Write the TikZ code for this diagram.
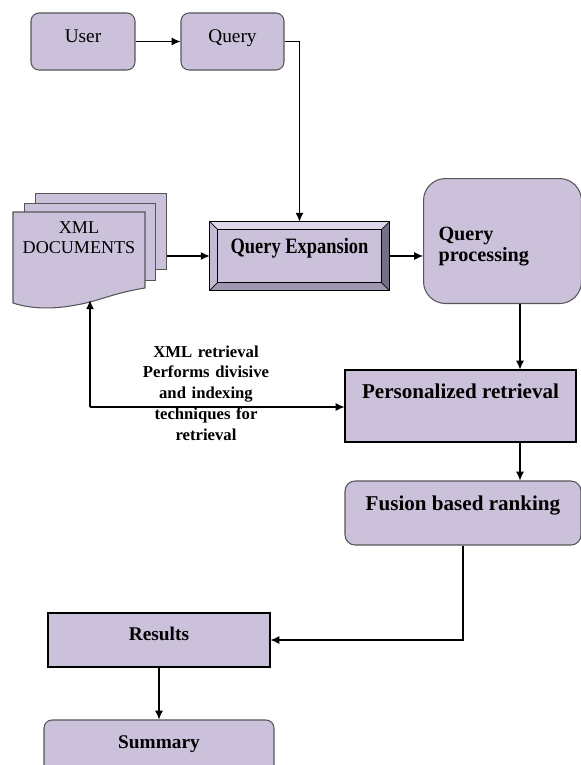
\documentclass[tikz,border=0pt]{standalone}
\usepackage{fontspec}
\setmainfont{Liberation Serif}
\usetikzlibrary{arrows.meta,positioning,calc,backgrounds}
\definecolor{boxfill}{RGB}{203,193,218}
\definecolor{boxedge}{RGB}{85,85,90}
\definecolor{bevtop}{RGB}{222,215,232}
\definecolor{bevleft}{RGB}{196,186,211}
\definecolor{bevright}{RGB}{118,110,133}
\definecolor{bevbottom}{RGB}{160,150,175}

\begin{document}
\begin{tikzpicture}[x=0.02cm,y=-0.02cm,
        box/.style={draw=black,fill=boxfill,line width=0.6pt,inner sep=0pt,anchor=base},
        rbox/.style={box,draw=boxedge,rounded corners=0.16cm},
        arr/.style={-{Latex[length=5pt,width=4.5pt]},line width=0.6pt},
        txt/.style={font=\fontsize{11}{13}\selectfont},
        btxt/.style={font=\bfseries\fontsize{11.5}{12}\selectfont}]
        \useasboundingbox (0,0) rectangle (581,765);

        % top row
        \node[rbox,txt,minimum width=2.08cm,text height=0.58cm,text depth=0.56cm] (user) at (83,42) {User};
        \node[rbox,txt,minimum width=2.06cm,text height=0.58cm,text depth=0.56cm] (query) at (232.5,42) {Query};

        % xml documents (stacked pages)
        \node[box,draw=boxedge,anchor=north west,minimum width=2.62cm,minimum height=1.52cm] (xmlback) at (35,193) {};
        \node[box,draw=boxedge,anchor=north west,minimum width=2.62cm,minimum height=1.54cm] (xmlmid) at (24,203) {};
        \draw[draw=boxedge,fill=boxfill,line width=0.6pt] (13,212) -- (145,212) -- (145,288)
            .. controls (120,292) and (105,298) .. (90,302)
            .. controls (70,307) and (40,312) .. (13,303) -- cycle;
        \node[anchor=base,inner sep=0pt,text width=2.64cm,align=center,text height=0.42cm,text depth=1.34cm,
            font=\fontsize{10.3}{11.5}\selectfont] (xml) at (79,233) {XML\\DOCUMENTS};

        % query expansion (bevelled)
        \node[anchor=base,inner sep=0pt,minimum width=3.58cm,text height=0.62cm,text depth=0.74cm,
            font=\bfseries\fontsize{12.5}{14}\selectfont\addfontfeatures{FakeStretch=0.84}] (qexp) at (299.5,253) {Query Expansion};
        \begin{scope}[on background layer]
            \fill[boxfill] (qexp.north west) rectangle (qexp.south east);
            \fill[bevtop] (qexp.north west) -- (qexp.north east) -- ($(qexp.north east)+(-8,8)$) -- ($(qexp.north west)+(8,8)$) -- cycle;
            \fill[bevright] (qexp.north east) -- (qexp.south east) -- ($(qexp.south east)+(-8,-8)$) -- ($(qexp.north east)+(-8,8)$) -- cycle;
            \fill[bevbottom] (qexp.south east) -- (qexp.south west) -- ($(qexp.south west)+(8,-8)$) -- ($(qexp.south east)+(-8,-8)$) -- cycle;
            \fill[bevleft] (qexp.south west) -- (qexp.north west) -- ($(qexp.north west)+(8,8)$) -- ($(qexp.south west)+(8,-8)$) -- cycle;
            \draw[line width=0.6pt] (qexp.north west) rectangle (qexp.south east);
            \draw[line width=0.5pt] ($(qexp.north west)+(8,8)$) rectangle ($(qexp.south east)+(-8,-8)$);
            \draw[line width=0.4pt] (qexp.north west) -- ($(qexp.north west)+(8,8)$);
            \draw[line width=0.4pt] (qexp.north east) -- ($(qexp.north east)+(-8,8)$);
            \draw[line width=0.4pt] (qexp.south east) -- ($(qexp.south east)+(-8,-8)$);
            \draw[line width=0.4pt] (qexp.south west) -- ($(qexp.south west)+(8,-8)$);
        \end{scope}

        % right column
        \node[rbox,btxt,rounded corners=0.44cm,anchor=north west,text width=2.56cm,inner xsep=0.3cm,inner ysep=0pt,
            align=left,text height=1.24cm,text depth=1.26cm] (qproc) at (423,178) {Query\\processing};
        \node[box,font=\bfseries\fontsize{12}{14}\selectfont,minimum width=4.62cm,text height=0.56cm,text depth=0.88cm] (pers) at (460.5,398) {Personalized retrieval};
        \node[rbox,font=\bfseries\fontsize{12}{14}\selectfont,rounded corners=0.2cm,minimum width=4.72cm,text height=0.58cm,text depth=0.70cm] (fusion) at (463,510) {Fusion based ranking};

        % bottom
        \node[box,font=\bfseries\fontsize{11}{13}\selectfont,minimum width=4.44cm,text height=0.54cm,text depth=0.54cm] (results) at (159,640) {Results};
        \node[rbox,font=\bfseries\fontsize{11}{13}\selectfont,minimum width=4.6cm,text height=0.56cm,text depth=0.6cm] (summary) at (159,748) {Summary};

        \node[anchor=base,inner sep=0pt,text width=3.2cm,align=center,font=\bfseries\fontsize{9.5}{11.9}\selectfont] (fblabel) at (206,357)
            {XML retrieval\\Performs divisive\\and indexing\\techniques for\\retrieval};

        \coordinate (vline) at (520,0);
        \coordinate (fb) at (90,407);

        % connectors
        \draw[arr] (user) -- (query);
        \draw[arr] (query.east) -| (qexp.north);
        \draw[arr] (qexp.west -| xmlback.east) -- (qexp.west);
        \draw[arr] (qexp.east) -- (qexp.east -| qproc.west);
        \draw[arr] (qproc.south -| vline) -- (pers.north -| vline);
        \draw[arr] (pers.south -| vline) -- (fusion.north -| vline);
        \draw[arr] (fusion.south) |- (results.east);
        \draw[arr] (results) -- (summary);
        \draw[arr] (fb) -- (xml.south -| fb);
        \draw[arr] (fb) -- (fb -| pers.west);
    \end{tikzpicture}
\end{document}
